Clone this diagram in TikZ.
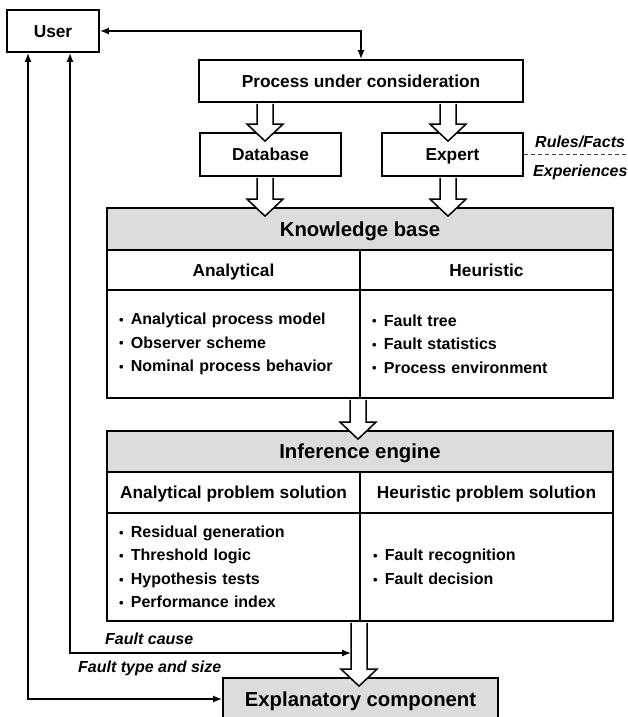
\documentclass[tikz,border=0pt]{standalone}
\usepackage{fontspec}
\setmainfont{Liberation Sans}
\usetikzlibrary{calc,arrows.meta}
\definecolor{headgray}{RGB}{220,220,220}

% hollow block arrow pointing down: #1 = start on the source edge, #2 = top edge of the target
\newcommand\hollowarrow[2]{%
  \filldraw[hollow] ($(#1)+(-8,1)$) -- ($(#2)+(-8,-8)$) -- ($(#2)+(-18,-8)$) --
    ($(#2)+(0,9)$) -- ($(#2)+(18,-8)$) -- ($(#2)+(8,-8)$) -- ($(#1)+(8,1)$);}

% list bullet
\newcommand\bul{{\fontsize{13}{13}\selectfont\raisebox{0.4pt}{•}}\hspace{2pt} }

\tikzset{
  box/.style={draw, line width=1.8pt, inner sep=0pt,
    font=\bfseries\fontsize{17.3}{20}\selectfont, align=center,
    text height=12.4pt, text depth=0pt},
  headbox/.style={box, fill=headgray, font=\bfseries\fontsize{20.3}{24}\selectfont,
    text height=14.5pt},
  itembox/.style={draw, line width=1.8pt, inner sep=0pt, align=left,
    inner xsep=#1, text width=253pt-2*#1, minimum height=108pt,
    font=\bfseries\fontsize{16}{23.5}\selectfont},
  hollow/.style={draw=black, fill=white, line width=1.5pt, line join=miter},
  conn/.style={line width=1.5pt, {Latex[length=9pt,width=7pt]}-{Latex[length=9pt,width=7pt]}},
  note/.style={font=\bfseries\itshape\fontsize{16}{19}\selectfont, inner sep=0pt},
}

\begin{document}
\begin{tikzpicture}[x=1pt, y=-1pt]
\useasboundingbox (0,0) rectangle (628,717);

% top row
\node[box, minimum width=92pt, minimum height=42pt] (user) at (53,31) {User};
\node[box, minimum width=324pt, minimum height=42pt] (proc) at (361,81) {Process under consideration};
\node[box, minimum width=141pt, minimum height=43pt] (db) at (270.5,154.5) {Database};
\node[box, minimum width=141pt, minimum height=43pt] (expert) at (452.5,154.5) {Expert};

% expert annotations
\draw[line width=0.8pt, dash pattern=on 4pt off 3pt, black!75]
  (expert.east) -- (expert.east -| 628,0);
\node[note, anchor=base west] (rules) at (535,147) {Rules/Facts};
\node[note, anchor=base west] (exper) at (533,176.5) {Experiences};

% knowledge base
\node[headbox, minimum width=506pt, minimum height=42pt] (kbh) at (360,229) {Knowledge base};
\node[box, minimum width=253pt, minimum height=40pt] (kbl) at (233.5,270) {Analytical};
\node[box, minimum width=253pt, minimum height=40pt] (kbr) at (486.5,270) {Heuristic};
\node[itembox=12pt] (kbli) at (233.5,344)
  {\bul Analytical process model\\\bul Observer scheme\\\bul Nominal process behavior};
\node[itembox=12pt] (kbri) at (486.5,344)
  {\bul Fault tree\\\bul Fault statistics\\\bul Process environment};

% inference engine
\node[headbox, minimum width=506pt, minimum height=41pt] (ieh) at (360,451.5) {Inference engine};
\node[box, minimum width=253pt, minimum height=41pt] (iel) at (233.5,492.5) {Analytical problem solution};
\node[box, minimum width=253pt, minimum height=41pt] (ier) at (486.5,492.5) {Heuristic problem solution};
\node[itembox=12pt] (ieli) at (233.5,567)
  {\bul Residual generation\\\bul Threshold logic\\\bul Hypothesis tests\\\bul Performance index};
\node[itembox=13pt] (ieri) at (486.5,567)
  {\bul Fault recognition\\\bul Fault decision};

% explanatory component
\node[headbox, minimum width=275pt, minimum height=42pt] (expl) at (360.5,699) {Explanatory component};

% block arrows
\hollowarrow{proc.south -| 265,0}{db.north -| 265,0}
\hollowarrow{proc.south -| 448,0}{expert.north -| 448,0}
\hollowarrow{db.south -| 265,0}{kbh.north -| 265,0}
\hollowarrow{expert.south -| 448,0}{kbh.north -| 448,0}
\hollowarrow{kbli.south -| 358,0}{ieh.north -| 358,0}
\hollowarrow{ieli.south -| 359,0}{expl.north -| 359,0}

% feedback to the user
\coordinate (fcend) at (351,653);
\draw[conn] (user.east) -| (proc.north);
\draw[conn] (fcend) -| (user.south -| 70,0);
\draw[conn] (expl.west) -| (user.south -| 28,0);
\node[note, anchor=base west] (fcause) at (105,644) {Fault cause};
\node[note, anchor=base west] (ftype) at (78,672) {Fault type and size};
\end{tikzpicture}
\end{document}
